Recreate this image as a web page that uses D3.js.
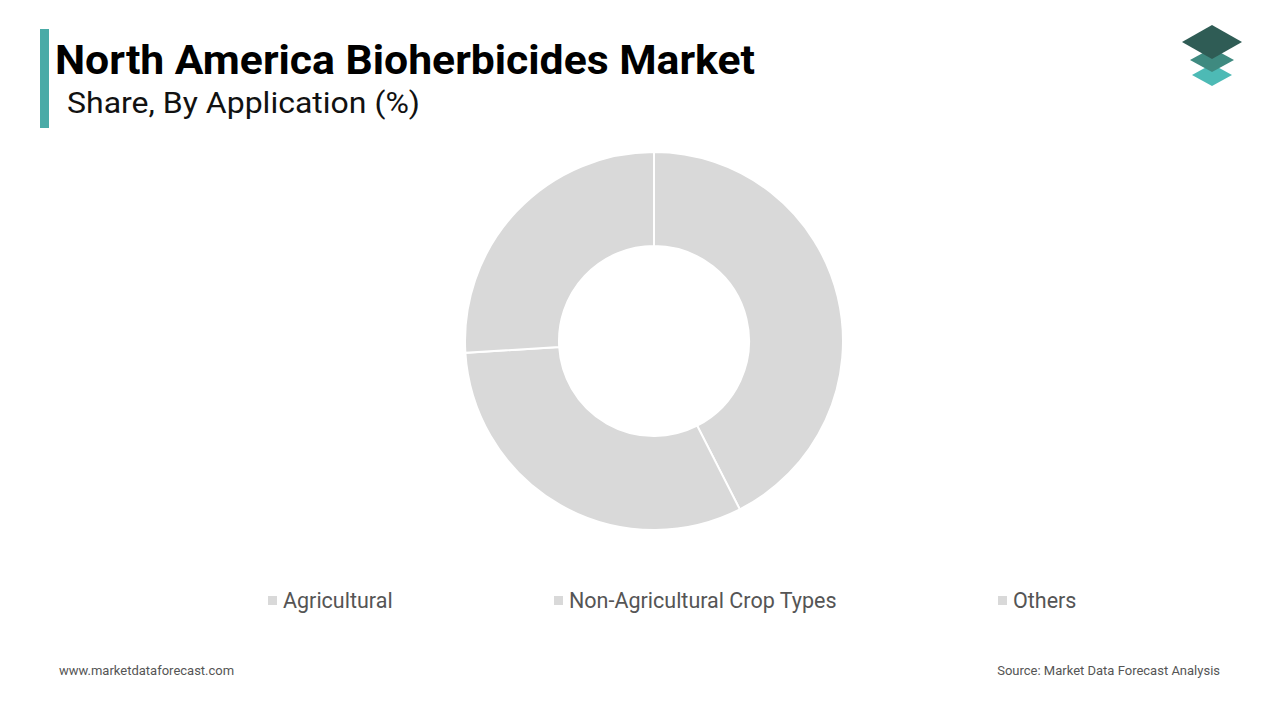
<!DOCTYPE html>
<html>
<head>
<meta charset="utf-8">
<script src="https://cdn.jsdelivr.net/npm/d3@7"></script>
<style>
  body { margin: 0; background: #fff; font-family: Roboto, "Open Sans", sans-serif; }
</style>
</head>
<body>
<svg id="chart" width="1280" height="720"></svg>
<script>
const categories = ["Agricultural", "Non-Agricultural Crop Types", "Others"];
const shares = [42.5, 31.5, 26];
const legendX = [268, 554, 998];

const svg = d3.select("#chart");

// title block
svg.append("rect").attr("x", 40).attr("y", 29).attr("width", 9).attr("height", 99).attr("fill", "#4aaba7");
svg.append("text").attr("x", 55).attr("y", 74).attr("font-size", 40).attr("font-weight", 700)
  .attr("fill", "#000").attr("textLength", 700).attr("lengthAdjust", "spacingAndGlyphs")
  .text("North America Bioherbicides Market");
svg.append("text").attr("x", 67).attr("y", 113).attr("font-size", 29)
  .attr("fill", "#111").attr("textLength", 353).attr("lengthAdjust", "spacingAndGlyphs")
  .text("Share, By Application (%)");

// logo
const logo = svg.append("g").attr("transform", "translate(1212,0)");
[[75, "#4dbab5", 20, 11], [60, "#3f8a80", 22, 12], [42, "#2f5c55", 30, 17]].forEach(([y, c, w, h]) => {
  logo.append("path").attr("d", `M0,${y - h} L${w},${y} L0,${y + h} L${-w},${y} Z`).attr("fill", c);
});

// donut
const pie = d3.pie().sort(null).value(d => d)(shares);
const arc = d3.arc().innerRadius(95).outerRadius(189);
svg.append("g").attr("transform", "translate(654,341)")
  .selectAll("path").data(pie).enter().append("path")
  .attr("d", arc).attr("fill", "#d9d9d9").attr("stroke", "#fff").attr("stroke-width", 2);

// legend
const leg = svg.selectAll(".leg").data(categories).enter().append("g")
  .attr("transform", (d, i) => `translate(${legendX[i]},601)`);
leg.append("rect").attr("x", 0).attr("y", -5).attr("width", 9).attr("height", 9).attr("fill", "#d9d9d9");
leg.append("text").attr("x", 15).attr("y", 7).attr("font-size", 21.5).attr("fill", "#555").text(d => d);

// footer
svg.append("text").attr("x", 59).attr("y", 675).attr("font-size", 13).attr("fill", "#555").text("www.marketdataforecast.com");
svg.append("text").attr("x", 1220).attr("y", 675).attr("font-size", 13).attr("fill", "#555")
  .attr("text-anchor", "end").text("Source: Market Data Forecast Analysis");
</script>
</body>
</html>
